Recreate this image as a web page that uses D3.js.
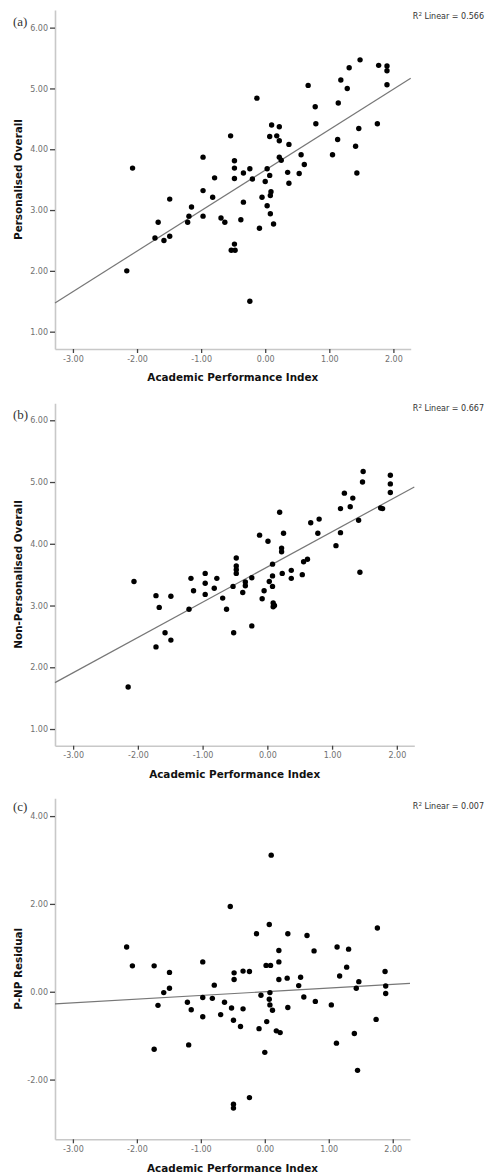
<!DOCTYPE html>
<html lang="en">
<head>
<meta charset="UTF-8">
<title>Academic Performance Index scatterplots</title>
<script src="https://d3js.org/d3.v7.min.js"></script>
<style>
    body { margin: 0; background: #fff; }
    #chart { display: block; background: #fff; }
    .axis .domain { stroke: #c8c8c8; stroke-width: 1.6; }
    .axis .tick line { stroke: #444; stroke-width: 1.3; }
    .axis .tick text { fill: #707070; font-family: "DejaVu Sans", sans-serif; font-size: 8px; }
    .ytitle, .xtitle { font-family: "DejaVu Sans", sans-serif; font-weight: bold; font-size: 10.4px; fill: #111; }
    .plabel { font-family: "Liberation Serif", serif; font-size: 13px; fill: #333; }
    .r2 { font-family: "DejaVu Sans", sans-serif; font-size: 8px; fill: #333; }
</style>
</head>
<body>
<svg id="chart" width="489" height="1175"></svg>
<script>
// values
const xTicks = [-3, -2, -1, 0, 1, 2];
const yTicksAB = [1, 2, 3, 4, 5, 6];
const yTicksC = [-2, 0, 2, 4];
const panelLabels = ['(a)', '(b)', '(c)'];
const yTitles = ['Personalised Overall', 'Non-Personalised Overall', 'P-NP Residual'];
const xTitle = 'Academic Performance Index';
const r2Values = ['0.566', '0.667', '0.007'];
const fitIntercepts = [3.657, 3.624, 0.0];
const fitSlopes = [0.666, 0.571, 0.084];

const apiA = [1.48, 1.31, 1.77, 1.90, 1.90, 1.18, 1.28, 0.67, 1.90, -0.13, 1.14, 0.78, 0.79, 1.75, 1.46,
    0.10, 0.22, -0.54, 0.07, 0.18, 0.22, 0.37, 1.13, 1.41, -0.97, 0.22, 0.25, 0.56, 1.05, -0.48, -0.48,
    -2.07, -0.24, -0.34, 0.03, 0.61, -0.79, -0.48, -0.20, 0.07, 0.00, 0.35, 0.53, 1.43, 0.37, -0.97,
    -1.49, -0.82, -0.34, -0.05, 0.09, 0.08, -1.15, 0.03, -1.19, -0.97, -1.67, -1.21, -0.69, -0.63,
    -0.38, 0.08, 0.13, -0.09, -1.72, -1.58, -1.49, -0.48, -0.53, -0.47, -2.16, -0.24];
const persA = [5.47, 5.34, 5.38, 5.37, 5.29, 5.14, 5.00, 5.05, 5.06, 4.84, 4.76, 4.70, 4.42, 4.42, 4.34,
    4.40, 4.37, 4.22, 4.21, 4.22, 4.14, 4.08, 4.16, 4.05, 3.87, 3.87, 3.82, 3.91, 3.91, 3.81, 3.69,
    3.69, 3.68, 3.61, 3.68, 3.75, 3.53, 3.52, 3.51, 3.57, 3.47, 3.62, 3.60, 3.61, 3.44, 3.32,
    3.18, 3.21, 3.13, 3.21, 3.30, 3.24, 3.05, 3.07, 2.90, 2.90, 2.80, 2.80, 2.87, 2.80,
    2.84, 2.94, 2.77, 2.70, 2.54, 2.50, 2.57, 2.44, 2.34, 2.34, 2.00, 1.50];

const apiB = [1.48, 1.47, 1.90, 1.90, 1.90, 1.19, 1.32, 1.13, 1.28, 1.75, 1.78, 0.19, 0.67, 0.80, 1.41,
    -0.12, 0.01, 0.25, 0.78, 1.13, 0.22, 0.22, 1.06, -0.48, -0.48, -0.48, -0.48, 0.08, 0.56, 0.62, 1.43,
    -2.06, -1.18, -0.96, -0.78, -0.24, 0.08, 0.23, 0.37, 0.37, 0.54, -0.96, -1.14, -0.82, -0.53, -0.34,
    -0.34, 0.03, 0.08, -0.05, -1.72, -1.49, -0.96, -0.38, -0.69, -0.08, -1.67, -1.21, -0.63, 0.09,
    0.09, 0.11, -0.52, -0.24, -1.58, -1.49, -1.72, -2.15];
const nonPersB = [5.17, 5.00, 5.11, 4.97, 4.83, 4.82, 4.74, 4.57, 4.60, 4.58, 4.57, 4.51, 4.34, 4.40, 4.38,
    4.14, 4.04, 4.17, 4.17, 4.18, 3.93, 3.87, 3.97, 3.77, 3.64, 3.58, 3.52, 3.67, 3.71, 3.75, 3.54,
    3.39, 3.44, 3.52, 3.44, 3.45, 3.48, 3.52, 3.57, 3.44, 3.50, 3.36, 3.24, 3.28, 3.31, 3.38,
    3.32, 3.39, 3.31, 3.24, 3.16, 3.15, 3.18, 3.21, 3.12, 3.11, 2.97, 2.94, 2.94, 3.04,
    2.98, 3.00, 2.56, 2.67, 2.56, 2.44, 2.33, 1.68];

const apiC = [0.10, -0.54, 0.07, -0.13, 0.36, 0.66, 1.76, -2.16, 0.22, 0.77, 1.13, 1.31, -0.97, 0.22,
    -2.07, -1.73, -1.49, -0.48, -0.34, -0.24, 0.02, 0.09, 1.28, 1.88, -0.48, 0.22, 0.35, 0.56, 1.17,
    -0.79, 0.53, 1.47, -1.49, -1.58, 1.43, 1.89, 1.89, -0.97, -0.82, -0.06, 0.08, 0.07, 0.61, -1.21,
    -0.63, -1.67, 0.08, 0.79, 1.04, -1.15, -0.52, -0.34, 0.12, 0.36, -0.97, -0.69, -0.49, -0.38, -0.09,
    0.03, 0.18, 0.24, 1.74, -1.19, 1.12, 1.40, -1.73, 0.00, 1.45, -0.24, -0.49, -0.49];
const residC = [3.11, 1.94, 1.53, 1.32, 1.32, 1.28, 1.45, 1.02, 0.94, 0.93, 1.02, 0.97, 0.68, 0.68,
    0.59, 0.59, 0.44, 0.43, 0.47, 0.46, 0.60, 0.60, 0.56, 0.46, 0.28, 0.28, 0.31, 0.33, 0.36,
    0.15, 0.14, 0.23, 0.08, -0.02, 0.08, 0.13, -0.04, -0.13, -0.15, -0.08, -0.02, -0.17, -0.12, -0.24,
    -0.24, -0.31, -0.30, -0.22, -0.30, -0.41, -0.37, -0.39, -0.42, -0.36, -0.57, -0.52, -0.65, -0.79, -0.84,
    -0.68, -0.89, -0.93, -0.63, -1.21, -1.17, -0.95, -1.31, -1.38, -1.79, -2.41, -2.56, -2.65];

// layout of each panel (pixels)
const panels = [
    { xs: apiA, ys: persA, yTicks: yTicksAB, top: 10, bottom: 349, right: 410.7, yDomain: [0.715, 6.29],
      labelY: 25.5, r2Y: 18.5, titleY: 380.5 },
    { xs: apiB, ys: nonPersB, yTicks: yTicksAB, top: 403.3, bottom: 745.7, right: 414.3, yDomain: [0.73, 6.275],
      labelY: 418.5, r2Y: 410.5, titleY: 778 },
    { xs: apiC, ys: residC, yTicks: yTicksC, top: 798.3, bottom: 1139.3, right: 410, yDomain: [-3.36, 4.405],
      labelY: 811, r2Y: 808.5, titleY: 1172 }
];
const left = 55;
const xDomain = [-3.28, 2.27];
const fmt = d => d.toFixed(2);

const svg = d3.select('#chart');

panels.forEach((p, i) => {
    const x = d3.scaleLinear().domain(xDomain).range([left, p.right]);
    const y = d3.scaleLinear().domain(p.yDomain).range([p.bottom, p.top]);
    const g = svg.append('g');

    g.append('g')
        .attr('class', 'axis')
        .attr('transform', `translate(${left},0)`)
        .call(d3.axisLeft(y).tickValues(p.yTicks).tickFormat(fmt).tickSize(5).tickSizeOuter(0).tickPadding(2));

    g.append('g')
        .attr('class', 'axis')
        .attr('transform', `translate(0,${p.bottom})`)
        .call(d3.axisBottom(x).tickValues(xTicks).tickFormat(fmt).tickSize(4).tickSizeOuter(0).tickPadding(3));

    // fit line
    g.append('line')
        .attr('x1', x(xDomain[0]))
        .attr('y1', y(fitIntercepts[i] + fitSlopes[i] * xDomain[0]))
        .attr('x2', x(xDomain[1]))
        .attr('y2', y(fitIntercepts[i] + fitSlopes[i] * xDomain[1]))
        .attr('stroke', '#777')
        .attr('stroke-width', 1.2);

    g.selectAll('circle')
        .data(p.xs.map((v, j) => ({ x: v, y: p.ys[j] })))
        .enter()
        .append('circle')
        .attr('cx', d => x(d.x))
        .attr('cy', d => y(d.y))
        .attr('r', 2.7)
        .attr('fill', '#000');

    g.append('text')
        .attr('class', 'plabel')
        .attr('x', 13)
        .attr('y', p.labelY)
        .text(panelLabels[i]);

    const r2 = g.append('text')
        .attr('class', 'r2')
        .attr('x', 484)
        .attr('y', p.r2Y)
        .attr('text-anchor', 'end');
    r2.append('tspan').text('R');
    r2.append('tspan').attr('font-size', '5.5px').attr('dy', -3).text('2');
    r2.append('tspan').attr('dy', 3).text(' Linear = ' + r2Values[i]);

    g.append('text')
        .attr('class', 'ytitle')
        .attr('transform', `translate(22,${(p.top + p.bottom) / 2}) rotate(-90)`)
        .attr('text-anchor', 'middle')
        .text(yTitles[i]);

    g.append('text')
        .attr('class', 'xtitle')
        .attr('x', (left + p.right) / 2)
        .attr('y', p.titleY)
        .attr('text-anchor', 'middle')
        .text(xTitle);
});
</script>
</body>
</html>
